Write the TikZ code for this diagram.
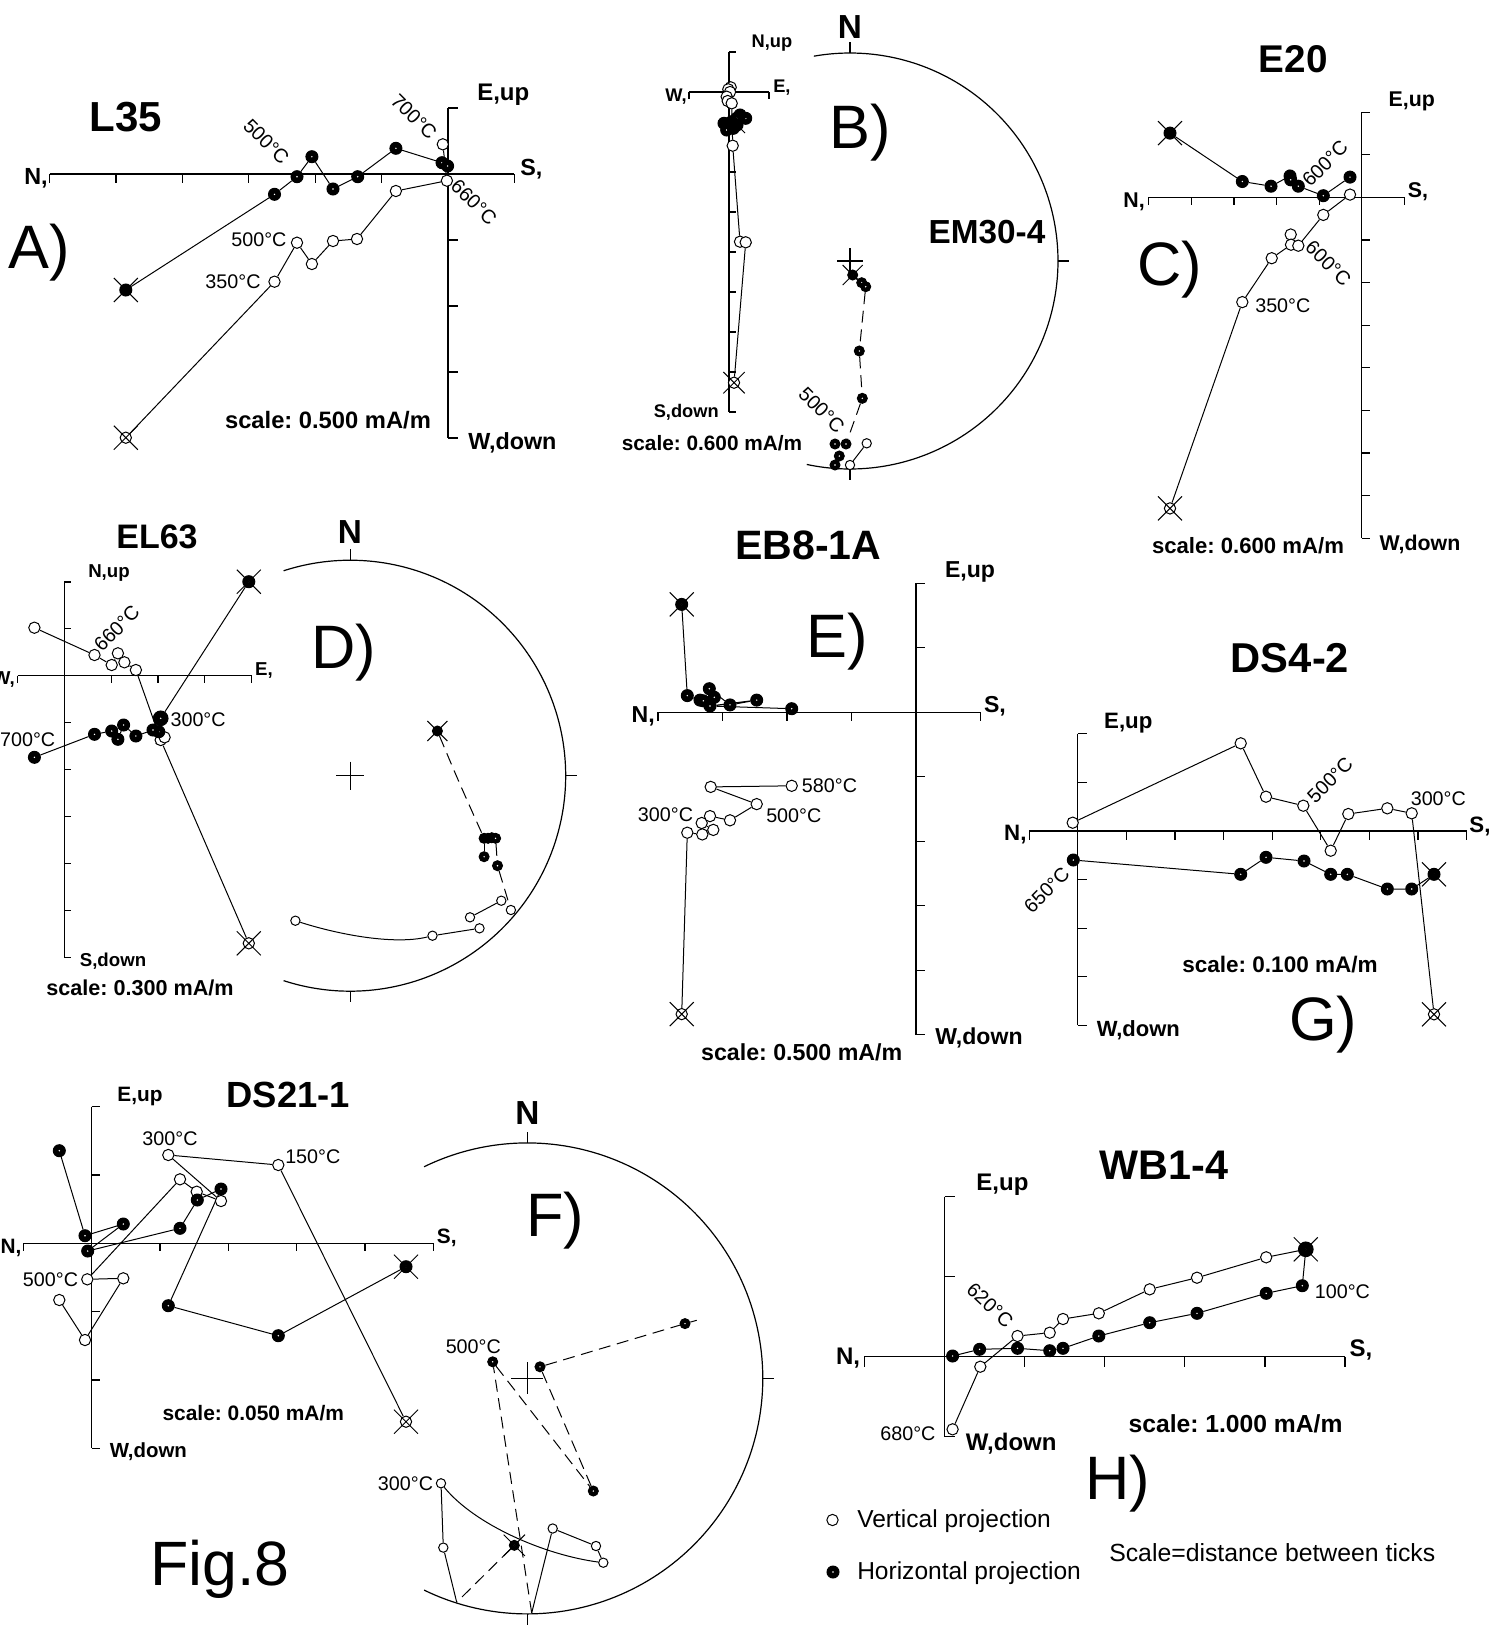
\documentclass[tikz,border=0pt]{standalone}
\usepackage{fontspec}
\setmainfont{Liberation Sans}
\usetikzlibrary{calc}
\pgfdeclarelayer{back}
\pgfdeclarelayer{bg}
\pgfsetlayers{back,bg,main}
\frenchspacing
\newcommand\fsz[1]{\fontsize{#1pt}{#1pt}\selectfont}
% horizontal axis: ox oy tick from to ticklen
\newcommand\HAx[6]{%
 \draw[axs] ({#1+(#4)*(#3)},#2) -- ({#1+(#5)*(#3)},#2);
 \foreach \k in {#4,...,#5}{\draw[axs] ({#1+(\k)*(#3)},#2) -- ++(0,#6);}}
% vertical axis: ox oy tick from to ticklen
\newcommand\VAx[6]{%
 \draw[axs] (#1,{#2+(#4)*(#3)}) -- (#1,{#2+(#5)*(#3)});
 \foreach \k in {#4,...,#5}{\draw[axs] (#1,{#2+(\k)*(#3)}) -- ++(#6,0);}}
\newcommand\Xmk[2]{\draw[dat] ([shift={(-#2,-#2)}]#1.center) -- ([shift={(#2,#2)}]#1.center) ([shift={(-#2,#2)}]#1.center) -- ([shift={(#2,-#2)}]#1.center);}
% stereonet: cx cy r a1 a2 crossarm ticklen
\newcommand\SNet[7]{%
 \draw[axs] plot[domain=#4:#5, samples=160, variable=\t] ({#1+#3*cos(\t)},{#2+#3*sin(\t)});
 \draw[axs] (#1,{#2-#3}) -- ++(0,-#7);
 \draw[axs] ({#1+#3},#2) -- ++(#7,0);
 \draw[axs] (#1,{#2+#3}) -- ++(0,#7);
 \draw[axs] ({#1-#6},#2) -- ({#1+#6},#2) (#1,{#2-#6}) -- (#1,{#2+#6});}
\tikzset{
 axs/.style={line width=0.9pt},
 dat/.style={line width=0.75pt},
 dsd/.style={line width=0.75pt, dash pattern=on 9pt off 5pt},
 opn/.style={circle, draw, fill=white, line width=0.75pt, inner sep=0pt, minimum size=8.5pt},
 ful/.style={circle, draw, fill=black, line width=0.75pt, inner sep=0pt, minimum size=9pt,
   path picture={\fill[white] (path picture bounding box.center) circle[radius=0.6pt];}},
 sopn/.style={opn, minimum size=7pt},
 sful/.style={ful, minimum size=7.5pt},
 tmp/.style={inner sep=0pt, font=\fsz{14.8}},
 axl/.style={inner sep=0pt, font=\fsz{#1}\bfseries},
 ttl/.style={inner sep=0pt, font=\fsz{#1}\bfseries},
 plet/.style={inner sep=0pt, font=\fsz{46}},
}
\begin{document}
\begin{tikzpicture}[x=0.75pt,y=-0.75pt]
\useasboundingbox (0,0) rectangle (1507,1625);
\begin{pgfonlayer}{back}
\fill[white] (0,0) rectangle (1507,1625);
\end{pgfonlayer}

%================ Panel A (L35)
\HAx{448}{174}{66.4}{-6}{1}{9}
\VAx{448}{174}{66}{-1}{4}{10}
\node[axl=17.5, anchor=east] (aN) at (48,178) {N,};
\node[axl=17.5, anchor=west] (aS) at (520,169) {S,};
\node[axl=18, anchor=west] (aE) at (477,95) {E,up};
\node[axl=17.5, anchor=west] (aW) at (468,443) {W,down};
\node[ttl=31.5] (aT) at (126,117) {L35};
\node[plet] (aL) at (39,253) {A)};
\node[axl=17.8] (aSc) at (328,420) {scale: 0.500 mA/m};
\node[opn] (ao0) at (125.8,437.7) {};
\node[opn] (ao1) at (274.5,281.7) {};
\node[opn] (ao2) at (297,242.7) {};
\node[opn] (ao3) at (311.9,264) {};
\node[opn] (ao4) at (333,241) {};
\node[opn] (ao5) at (357,239) {};
\node[opn] (ao6) at (395.9,191) {};
\node[opn] (ao7) at (446.9,180.7) {};
\node[opn] (ao8) at (442.8,144.3) {};
\node[ful] (af0) at (125.8,290) {};
\node[ful] (af1) at (274.5,194.3) {};
\node[ful] (af2) at (297,176.7) {};
\node[ful] (af3) at (311.9,156.7) {};
\node[ful] (af4) at (333,189) {};
\node[ful] (af5) at (357.7,176.7) {};
\node[ful] (af6) at (395.9,148.3) {};
\node[ful] (af7) at (442,162.7) {};
\node[ful] (af8) at (447.6,166) {};
\Xmk{af0}{9pt}\Xmk{ao0}{9pt}
\begin{pgfonlayer}{bg}
\draw[dat] (af0)--(af1)--(af2)--(af3)--(af4)--(af5)--(af6)--(af7)--(af8);
\draw[dat] (ao0)--(ao1)--(ao2)--(ao3)--(ao4)--(ao5)--(ao6)--(ao7)--(ao8);
\end{pgfonlayer}
\node[tmp, anchor=east] (at1) at (260.8,281.7) {350°C};
\node[tmp, anchor=east] (at2) at (286.7,240) {500°C};
\node[tmp, rotate=-45] (at3) at (266.4,141.7) {500°C};
\node[tmp, rotate=-45] (at4) at (414,116.7) {700°C};
\node[tmp, rotate=-45] (at5) at (474,202) {660°C};

%================ Panel B (EM30-4)
\VAx{729}{92}{40}{-1}{8}{7}
\HAx{729}{92}{40}{-1}{1}{7}
\node[axl=13.7] (bN) at (772,43) {N,up};
\node[axl=13.7, anchor=east] (bW) at (687,96.5) {W,};
\node[axl=13.7, anchor=west] (bE) at (773,87.5) {E,};
\node[axl=13.7, anchor=east] (bS) at (719,412) {S,down};
\node[axl=15.6] (bSc) at (712,443) {scale: 0.600 mA/m};
\node[opn] (bo2) at (730.7,87.3) {};
\node[opn] (bo1) at (728.3,89.3) {};
\node[opn] (bo3) at (730,92) {};
\node[opn] (bo4) at (726.7,96.7) {};
\node[opn] (bo5) at (727.7,101) {};
\node[opn] (bo6) at (731.7,103.3) {};
\node[opn] (bo7) at (732.7,145.7) {};
\node[opn] (bo8) at (740,241.7) {};
\node[opn] (bo9) at (745.7,242.3) {};
\node[opn] (bo0) at (734,382.7) {};
\node[ful] (bf8) at (745.7,118.3) {};
\node[ful] (bf7) at (740,115) {};
\node[ful] (bf6) at (736.7,118.3) {};
\node[ful] (bf3) at (731.7,121.7) {};
\node[ful] (bf1) at (724,123.3) {};
\node[ful] (bf2) at (728.3,125) {};
\node[ful] (bf4) at (726.7,130) {};
\node[ful] (bf5) at (733.3,128.3) {};
\node[ful] (bf0) at (737,125) {};
\Xmk{bo0}{8pt}\Xmk{bf0}{6pt}
\begin{pgfonlayer}{bg}
\draw[dat] (bo0)--(bo9)--(bo8)--(bo7)--(bo6)--(bo5)--(bo4)--(bo3)--(bo1)--(bo2);
\draw[dat] (bf0)--(bf8)--(bf7)--(bf6)--(bf3)--(bf1)--(bf2)--(bf4)--(bf5);
\end{pgfonlayer}
\SNet{850}{261}{208}{-100}{102}{13}{11}
\node[ttl=25] (bNN) at (850,27) {N};
\node[plet] (bL) at (860,133) {B)};
\node[ttl=25] (bT) at (987,232) {EM30-4};
\node[sful] (bsf0) at (852.7,275) {};
\node[sful] (bsf1) at (861.7,282.7) {};
\node[sful] (bsf2) at (865.7,286.7) {};
\node[sful] (bsf3) at (859.3,351) {};
\node[sful] (bsf4) at (862.3,398.3) {};
\node[sful] (bsf5) at (846,444) {};
\node[sful] (bsf6) at (835,444) {};
\node[sful] (bsf7) at (839.3,456) {};
\node[sful] (bsf8) at (835,465) {};
\node[sopn] (bso1) at (866.7,443.3) {};
\node[sopn] (bso2) at (850,465) {};
\Xmk{bsf0}{7.5pt}
\begin{pgfonlayer}{bg}
\draw[dsd] (bsf0)--(bsf1)--(bsf2)--(bsf3)--(bsf4)--(bsf5);
\draw[dat] (bso1)--(bso2);
\end{pgfonlayer}
\node[tmp, rotate=-45] (bt1) at (821.7,410) {500°C};

%================ Panel C (E20)
\HAx{1361.7}{197.3}{42.6}{-5}{1}{8}
\VAx{1361.7}{197.3}{42.6}{-2}{8}{8}
\node[axl=16] (cE) at (1411.7,101) {E,up};
\node[axl=16] (cS) at (1418,191.6) {S,};
\node[axl=16, anchor=east] (cN) at (1145,201.7) {N,};
\node[axl=16] (cW) at (1420,544) {W,down};
\node[axl=16.6] (cSc) at (1248,545.5) {scale: 0.600 mA/m};
\node[ttl=29] (cT) at (1293.3,58.7) {E20};
\node[plet] (cL) at (1170,270) {C)};
\node[opn] (co0) at (1170,508.4) {};
\node[opn] (co1) at (1242.3,302.1) {};
\node[opn] (co2) at (1271.7,258.2) {};
\node[opn] (co3) at (1290.7,234.5) {};
\node[opn] (co4) at (1291,244.7) {};
\node[opn] (co5) at (1298.3,245.7) {};
\node[opn] (co6) at (1323.3,214.9) {};
\node[opn] (co7) at (1350,194.6) {};
\node[ful] (cf0) at (1170,133.1) {};
\node[ful] (cf1) at (1242.3,181.5) {};
\node[ful] (cf2) at (1271,186.2) {};
\node[ful] (cf3) at (1290,176) {};
\node[ful] (cf4) at (1290.7,179.8) {};
\node[ful] (cf5) at (1298.3,186.2) {};
\node[ful] (cf6) at (1323.3,195.7) {};
\node[ful] (cf7) at (1350,177.1) {};
\Xmk{cf0}{9pt}\Xmk{co0}{9pt}
\begin{pgfonlayer}{bg}
\draw[dat] (cf0)--(cf1)--(cf2)--(cf3)--(cf4)--(cf5)--(cf6)--(cf7);
\draw[dat] (co0)--(co1)--(co2)--(co4)--(co5)--(co6)--(co7);
\draw[dat] (co3)--(co4);
\end{pgfonlayer}
\node[tmp, rotate=45] (ct1) at (1325,163.5) {600°C};
\node[tmp, rotate=-45] (ct2) at (1328.3,263.3) {600°C};
\node[tmp, anchor=west] (ct3) at (1255,305.5) {350°C};

%================ Panel D (EL63)
\HAx{64.3}{675.7}{46.8}{-1}{4}{7}
\VAx{64.3}{675.7}{46.9}{-2}{6}{7}
\node[axl=14] (dN) at (109,573) {N,up};
\node[axl=14, anchor=east] (dW) at (15,680) {W,};
\node[axl=14] (dE) at (264,671) {E,};
\node[axl=14] (dS) at (113,961) {S,down};
\node[axl=16.2] (dSc) at (140,988) {scale: 0.300 mA/m};
\node[ttl=25.5] (dT) at (157,537) {EL63};
\node[plet] (dL) at (344,653) {D)};
\node[opn] (do1) at (34.4,627.7) {};
\node[opn] (do2) at (94.5,655) {};
\node[opn] (do3) at (111.7,665) {};
\node[opn] (do4) at (117.9,653.3) {};
\node[opn] (do5) at (124.4,662.3) {};
\node[opn] (do6) at (135.9,670) {};
\node[opn] (do7) at (160.7,740) {};
\node[opn] (do8) at (164.6,737.3) {};
\node[opn] (do0) at (248.8,943.3) {};
\node[ful] (df0) at (248.8,581.7) {};
\node[ful, minimum size=11pt] (df1) at (160.7,718.3) {};
\node[ful] (df2) at (158.8,731.7) {};
\node[ful] (df3) at (153,730) {};
\node[ful] (df4) at (135.9,736) {};
\node[ful] (df5) at (123.6,725) {};
\node[ful] (df6) at (117.9,739.3) {};
\node[ful] (df7) at (111.7,731) {};
\node[ful] (df8) at (94.5,734.3) {};
\node[ful] (df9) at (34.4,757.3) {};
\Xmk{df0}{9pt}\Xmk{do0}{9pt}
\begin{pgfonlayer}{bg}
\draw[dat] (do1)--(do2)--(do3)--(do4)--(do5)--(do6)--(do7)--(do0);
\draw[dat] (do7)--(do8);
\draw[dat] (df0)--(df1)--(df2)--(df3)--(df4)--(df5)--(df6)--(df7)--(df8)--(df9);
\end{pgfonlayer}
\node[tmp, rotate=45] (dt1) at (116.7,628.3) {660°C};
\node[tmp, anchor=west] (dt2) at (170.3,720) {300°C};
\node[tmp, anchor=east] (dt3) at (55.5,740) {700°C};
\SNet{350.2}{775.7}{215.5}{-108}{108}{14}{11}
\node[ttl=25] (dNN) at (350,532) {N};
\node[sful] (dsf0) at (437.4,731) {};
\node[sful] (dsf1) at (484.1,838.3) {};
\node[sful] (dsf2) at (488,838.3) {};
\node[sful] (dsf3) at (491.8,837.7) {};
\node[sful] (dsf4) at (495.6,838.3) {};
\node[sful] (dsf5) at (484.1,856.7) {};
\node[sful] (dsf6) at (497.5,865.7) {};
\node[sopn] (dso1) at (501.3,900.7) {};
\node[sopn] (dso2) at (510.9,910) {};
\node[sopn] (dso3) at (470,917.3) {};
\node[sopn] (dso4) at (479.5,928.3) {};
\node[sopn] (dso5) at (432.5,935.7) {};
\node[sopn] (dso6) at (295.4,920.7) {};
\Xmk{dsf0}{7.5pt}
\begin{pgfonlayer}{bg}
\draw[dsd] (dsf0) .. controls (458,780) .. (dsf1);
\draw[dsd] (dsf4)--(dsf6)--(dso2);
\draw[dat] (dsf5)--(dsf1);
\draw[dat] (dso3)--(dso1);
\draw[dat] (dso4)--(dso5);
\draw[dat] (dso6) .. controls (340,935) and (395,945) .. (dso5);
\end{pgfonlayer}

%================ Panel E (EB8-1A)
\HAx{916}{712.1}{64.5}{-4}{1}{9}
\VAx{916}{712.1}{64.5}{-2}{5}{9}
\node[axl=17.3] (eE) at (970,571.7) {E,up};
\node[axl=17.3] (eS) at (995,706) {S,};
\node[axl=17.3, anchor=east] (eN) at (655,716) {N,};
\node[axl=17.3] (eW) at (979,1038) {W,down};
\node[axl=17.4] (eSc) at (801.7,1052) {scale: 0.500 mA/m};
\node[ttl=30.8] (eT) at (808.3,545) {EB8-1A};
\node[plet] (eL) at (837,642) {E)};
\node[opn] (eo0) at (681.7,1014.1) {};
\node[opn] (eo1) at (687.3,832.7) {};
\node[opn] (eo2) at (702.3,834.4) {};
\node[opn] (eo3) at (701.7,823) {};
\node[opn] (eo4) at (713.3,829.9) {};
\node[opn] (eo5) at (710,816.1) {};
\node[opn] (eo6) at (730,820.3) {};
\node[opn] (eo7) at (756.7,804.1) {};
\node[opn] (eo8) at (710.7,786.9) {};
\node[opn] (eo9) at (791.7,785.8) {};
\node[ful] (ef0) at (681.7,604.4) {};
\node[ful] (ef1) at (687.3,695.6) {};
\node[ful] (ef2) at (700,700.1) {};
\node[ful] (ef2b) at (703.3,700.8) {};
\node[ful] (ef3) at (709.3,688.7) {};
\node[ful] (ef4) at (714.3,697.3) {};
\node[ful] (ef5) at (710,706) {};
\node[ful] (ef6) at (730,704.9) {};
\node[ful] (ef7) at (756.7,700.1) {};
\node[ful] (ef8) at (791.7,708.7) {};
\Xmk{ef0}{9pt}\Xmk{eo0}{9pt}
\begin{pgfonlayer}{bg}
\draw[dat] (eo0)--(eo1)--(eo2)--(eo4)--(eo3)--(eo5)--(eo6)--(eo7)--(eo8)--(eo9);
\draw[dat] (ef0)--(ef1)--(ef2)--(ef2b)--(ef4)--(ef3)--(ef6)--(ef7)--(ef5)--(ef8);
\end{pgfonlayer}
\node[tmp, anchor=west] (et1) at (801.7,785.8) {580°C};
\node[tmp, anchor=west] (et2) at (766,815.5) {500°C};
\node[tmp, anchor=east] (et3) at (693.3,814.4) {300°C};

%================ Panel G (DS4-2)
\HAx{1077.7}{831}{48.6}{-1}{8}{9}
\VAx{1077.7}{831}{48.6}{-2}{4}{9}
\node[axl=16.7] (gE) at (1128.3,723.3) {E,up};
\node[axl=16.7, anchor=east] (gN) at (1026.7,835) {N,};
\node[axl=16.7] (gS) at (1480,826.7) {S,};
\node[axl=16.5] (gW) at (1138.3,1030) {W,down};
\node[axl=16.9] (gSc) at (1280,965) {scale: 0.100 mA/m};
\node[ttl=31.3] (gT) at (1290,658.3) {DS4-2};
\node[plet] (gL) at (1323.3,1025) {G)};
\node[opn] (go1) at (1072.7,822.7) {};
\node[opn] (go2) at (1240.7,743.3) {};
\node[opn] (go3) at (1266,796.7) {};
\node[opn] (go4) at (1303.3,805.7) {};
\node[opn] (go5) at (1330.7,850.7) {};
\node[opn] (go6) at (1348.3,814) {};
\node[opn] (go7) at (1387.3,808.3) {};
\node[opn] (go8) at (1411.7,813.3) {};
\node[opn] (go0) at (1434,1014.3) {};
\node[ful] (gf1) at (1073.3,860) {};
\node[ful] (gf2) at (1240.7,874.3) {};
\node[ful] (gf3) at (1266,857.3) {};
\node[ful] (gf4) at (1304,861) {};
\node[ful] (gf5) at (1330.7,874.3) {};
\node[ful] (gf6) at (1347.3,874.3) {};
\node[ful] (gf7) at (1387.3,889) {};
\node[ful] (gf8) at (1411.7,889) {};
\node[ful] (gf0) at (1434,874.3) {};
\Xmk{gf0}{9pt}\Xmk{go0}{9pt}
\begin{pgfonlayer}{bg}
\draw[dat] (go1)--(go2)--(go3)--(go4)--(go5)--(go6)--(go7)--(go8)--(go0);
\draw[dat] (gf1)--(gf2)--(gf3)--(gf4)--(gf5)--(gf6)--(gf7)--(gf8)--(gf0);
\end{pgfonlayer}
\node[tmp, rotate=45] (gt1) at (1330,780) {500°C};
\node[tmp] (gt2) at (1438.3,798.3) {300°C};
\node[tmp, rotate=45] (gt3) at (1046.7,890) {650°C};

%================ Panel F orthogonal (DS21-1)
\HAx{91.7}{1243.3}{68.3}{-1}{5}{8}
\VAx{91.7}{1243.3}{68.3}{-2}{3}{8}
\node[axl=15.6] (fE) at (140,1096.7) {E,up};
\node[axl=15.6, anchor=east] (fN) at (21.7,1248.3) {N,};
\node[axl=15.6] (fS) at (446.7,1238.3) {S,};
\node[axl=15.3] (fW) at (148.3,1451.7) {W,down};
\node[axl=15.7] (fSc) at (253.3,1413.3) {scale: 0.050 mA/m};
\node[ttl=27.3] (fT) at (288.3,1095) {DS21-1};
\node[opn] (fo0) at (406,1421.7) {};
\node[opn] (fo1) at (278.3,1165) {};
\node[opn] (fo2) at (168.3,1155) {};
\node[opn] (fo3) at (221,1201) {};
\node[opn] (fo4) at (196.7,1191.7) {};
\node[opn] (fo5) at (180,1179.3) {};
\node[opn] (fo6) at (87.3,1279.3) {};
\node[opn] (fo7) at (123.3,1278.3) {};
\node[opn] (fo8) at (85,1340) {};
\node[opn] (fo9) at (59.3,1300) {};
\node[ful] (ff0) at (406,1266.7) {};
\node[ful] (ff1) at (278.3,1335.7) {};
\node[ful] (ff2) at (168.3,1305.7) {};
\node[ful] (ff3) at (221,1189) {};
\node[ful] (ff4) at (197.3,1200) {};
\node[ful] (ff5) at (180,1228.3) {};
\node[ful] (ff6) at (87.7,1251) {};
\node[ful] (ff7) at (123.3,1224) {};
\node[ful] (ff8) at (85,1235.7) {};
\node[ful] (ff9) at (59.3,1150.7) {};
\Xmk{ff0}{9pt}\Xmk{fo0}{9pt}
\begin{pgfonlayer}{bg}
\draw[dat] (fo0)--(fo1)--(fo2)--(fo3)--(fo4)--(fo5)--(fo6)--(fo7)--(fo8)--(fo9);
\draw[dat] (ff0)--(ff1)--(ff2)--(ff3)--(ff4)--(ff5)--(ff6)--(ff7)--(ff8)--(ff9);
\end{pgfonlayer}
\node[tmp] (ft1) at (170,1138.3) {300°C};
\node[tmp, anchor=west] (ft2) at (285,1156.7) {150°C};
\node[tmp, anchor=east] (ft3) at (78.3,1279.3) {500°C};

%================ Panel F stereonet
\SNet{527.3}{1378.4}{235.5}{-116}{116}{16}{11}
\node[ttl=25] (fNN) at (527.3,1113.4) {N};
\node[plet] (fL) at (555,1221) {F)};
\node[sopn] (fso1) at (443.3,1547.6) {};
\node[sopn] (fso2) at (441,1483.3) {};
\node[sopn] (fso3) at (603.3,1562.7) {};
\node[sopn] (fso4) at (596,1546) {};
\node[sopn] (fso5) at (552.7,1528.5) {};
\node[sful] (fsf0) at (514.3,1545.3) {};
\node[sful] (fsf1) at (492.7,1361.8) {};
\node[sful] (fsf2) at (593.3,1491) {};
\node[sful] (fsf3) at (540,1366.8) {};
\node[sful] (fsf4) at (685,1323.6) {};
\coordinate (fse1) at (456.7,1602.2);
\coordinate (fse2) at (531.7,1612.9);
\coordinate (fse3) at (696.7,1320.3);
\Xmk{fsf0}{8pt}
\begin{pgfonlayer}{bg}
\draw[dsd] (fsf0)--(fse1);
\draw[dat] (fse1)--(fso1)--(fso2);
\draw[dat] (fso2) .. controls (475,1525) and (545,1555) .. (fso3);
\draw[dat] (fso3)--(fso4)--(fso5)--(fse2);
\draw[dsd] (fse2)--(fsf1)--(fsf2)--(fsf3)--(fsf4)--(fse3);
\end{pgfonlayer}
\node[tmp] (fst1) at (473.3,1347) {500°C};
\node[tmp, anchor=east] (fst2) at (433.3,1483.3) {300°C};

%================ Panel H (WB1-4)
\HAx{944.5}{1356.7}{80.1}{-1}{5}{10}
\VAx{944.5}{1356.7}{80}{-2}{1}{10}
\node[axl=18] (hE) at (1002.4,1185) {E,up};
\node[axl=18, anchor=east] (hN) at (860.3,1358) {N,};
\node[axl=18] (hS) at (1361,1349.5) {S,};
\node[axl=18] (hW) at (1011.2,1443.3) {W,down};
\node[axl=18.5] (hSc) at (1235.6,1423.3) {scale: 1.000 mA/m};
\node[ttl=31] (hT) at (1163.7,1165) {WB1-4};
\node[plet] (hL) at (1118,1483.3) {H)};
\node[opn] (ho1) at (952.6,1429.3) {};
\node[opn] (ho2) at (980.3,1366.7) {};
\node[opn] (ho3) at (1017.5,1336) {};
\node[opn] (ho4) at (1049.7,1332.7) {};
\node[opn] (ho5) at (1063,1319) {};
\node[opn] (ho6) at (1098.8,1313.3) {};
\node[opn] (ho7) at (1149.7,1289.3) {};
\node[opn] (ho8) at (1197,1277.7) {};
\node[opn] (ho9) at (1266.2,1257.3) {};
\node[opn] (ho0) at (1305.8,1249.3) {};
\node[ful] (hf1) at (952.6,1356) {};
\node[ful] (hf2) at (979.6,1349.3) {};
\node[ful] (hf3) at (1017.5,1348.3) {};
\node[ful] (hf4) at (1049.7,1350.7) {};
\node[ful] (hf5) at (1063,1348.3) {};
\node[ful] (hf6) at (1098.8,1336) {};
\node[ful] (hf7) at (1149.7,1322.7) {};
\node[ful] (hf8) at (1197,1313.3) {};
\node[ful] (hf9) at (1266.2,1293.3) {};
\node[ful] (hf10) at (1302.3,1285.7) {};
\node[ful, minimum size=11pt] (hf0) at (1305.8,1249.3) {};
\Xmk{hf0}{9pt}
\begin{pgfonlayer}{bg}
\draw[dat] (ho0)--(ho9)--(ho8)--(ho7)--(ho6)--(ho5)--(ho4)--(ho3)--(ho2)--(ho1);
\draw[dat] (hf0)--(hf10)--(hf9)--(hf8)--(hf7)--(hf6)--(hf5)--(hf4)--(hf3)--(hf2)--(hf1);
\end{pgfonlayer}
\node[tmp, rotate=-43] (ht1) at (990.1,1305) {620°C};
\node[tmp, anchor=west] (ht2) at (1314.6,1291.7) {100°C};
\node[tmp, anchor=east] (ht3) at (935.7,1433.3) {680°C};

%================ Legend and figure label
\node[opn] (lgo) at (832.5,1520) {};
\node[ful] (lgf) at (833,1572) {};
\node[inner sep=0pt, anchor=west, font=\fsz{18.4}] (lgt1) at (857,1521) {Vertical projection};
\node[inner sep=0pt, anchor=west, font=\fsz{18.4}] (lgt2) at (857,1573) {Horizontal projection};
\node[inner sep=0pt, anchor=west, font=\fsz{18.6}] (lgt3) at (1109,1553) {Scale=distance between ticks};
\node[inner sep=0pt, font=\fsz{47}] (fig) at (220,1569) {Fig.8};
\end{tikzpicture}
\end{document}
